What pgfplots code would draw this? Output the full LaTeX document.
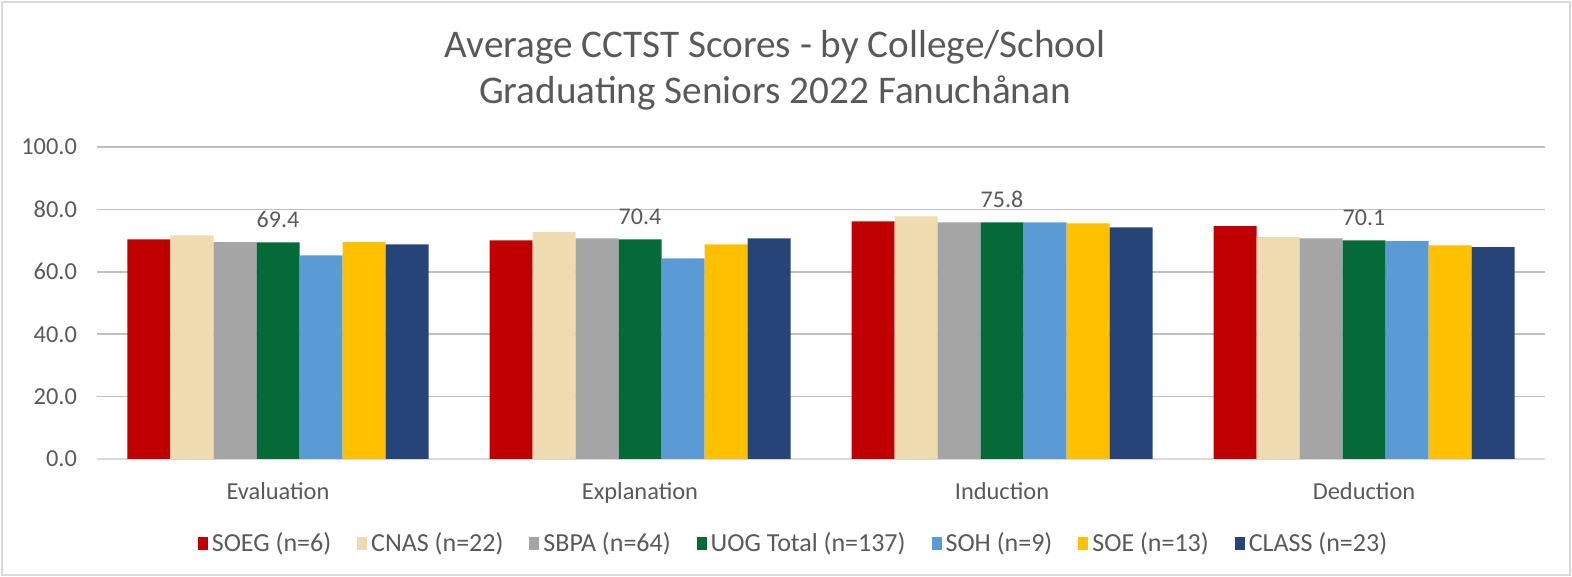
\documentclass[border=0pt]{standalone}
\usepackage{fontspec}
\setmainfont{Carlito}
\usepackage{pgfplots}
\pgfplotsset{compat=1.18}
\definecolor{cSOEG}{HTML}{C00000}
\definecolor{cCNAS}{HTML}{EEDBB0}
\definecolor{cSBPA}{HTML}{A5A5A5}
\definecolor{cUOG}{HTML}{046A38}
\definecolor{cSOH}{HTML}{5B9BD5}
\definecolor{cSOE}{HTML}{FFC000}
\definecolor{cCLASS}{HTML}{264478}
\definecolor{txt}{HTML}{595959}
\definecolor{grid}{HTML}{D9D9D9}
\begin{document}
\begin{tikzpicture}
\useasboundingbox (-48.5pt,-59pt) rectangle (737.5pt,229.5pt);
\draw[grid, line width=0.8pt] (-47.5pt,-58pt) rectangle (736.5pt,228.5pt);
\begin{axis}[
  at={(0pt,0pt)}, anchor=south west,
  scale only axis, width=724pt, height=156pt,
  ybar=0pt, bar width=21.5pt,
  xmin=-0.5, xmax=3.5, ymin=0, ymax=100,
  xtick=data, xticklabels={Evaluation,Explanation,Induction,Deduction},
  ytick={0,20,40,60,80,100},
  tick label style={font=\fontsize{12.2}{14}\selectfont, text=txt},
  xticklabel style={yshift=-8pt},
  yticklabel style={xshift=-6.5pt, /pgf/number format/.cd, fixed, fixed zerofill, precision=1, assume math mode=true},
  major tick length=0pt,
  xtick style={draw=none}, ytick style={draw=none},
  xmajorgrids=false,
  ymajorgrids, grid style={grid, line width=0.8pt},
  axis x line*=bottom, axis y line*=left,
  x axis line style={grid, line width=0.8pt, -},
  y axis line style={draw=none},
  legend columns=7,
  legend style={at={(0.4817,-0.2724)}, anchor=center, draw=none, fill=none,
    font=\fontsize{13}{15}\selectfont, text=txt,
    /tikz/every even column/.append style={column sep=11pt}},
  legend image code/.code={\fill[#1] (0pt,-3pt) rectangle (5pt,3.5pt);},
]
\addplot[fill=cSOEG, draw=none] coordinates {(0,70.4) (1,70.1) (2,76.2) (3,74.6)};
\addplot[fill=cCNAS, draw=none] coordinates {(0,71.7) (1,72.7) (2,77.8) (3,71.1)};
\addplot[fill=cSBPA, draw=none] coordinates {(0,69.5) (1,70.7) (2,75.8) (3,70.7)};
\addplot[fill=cUOG, draw=none, nodes near coords,
  nodes near coords style={font=\fontsize{12}{14}\selectfont, text=txt, inner sep=0pt, anchor=south, yshift=7pt,
  /pgf/number format/.cd, fixed, fixed zerofill, precision=1, assume math mode=true}]
  coordinates {(0,69.4) (1,70.4) (2,75.8) (3,70.1)};
\addplot[fill=cSOH, draw=none] coordinates {(0,65.3) (1,64.3) (2,75.8) (3,69.8)};
\addplot[fill=cSOE, draw=none] coordinates {(0,69.5) (1,68.8) (2,75.5) (3,68.5)};
\addplot[fill=cCLASS, draw=none] coordinates {(0,68.8) (1,70.7) (2,74.2) (3,67.9)};
\legend{SOEG (n=6),CNAS (n=22),SBPA (n=64),UOG Total (n=137),SOH (n=9),SOE (n=13),CLASS (n=23)}
\end{axis}
\node[text=txt, font=\fontsize{19.6}{22}\selectfont] at (339pt,206pt) {Average CCTST Scores - by College/School};
\node[text=txt, font=\fontsize{19.6}{22}\selectfont] at (339pt,183pt) {Graduating Seniors 2022 Fanuchånan};
\end{tikzpicture}
\end{document}
